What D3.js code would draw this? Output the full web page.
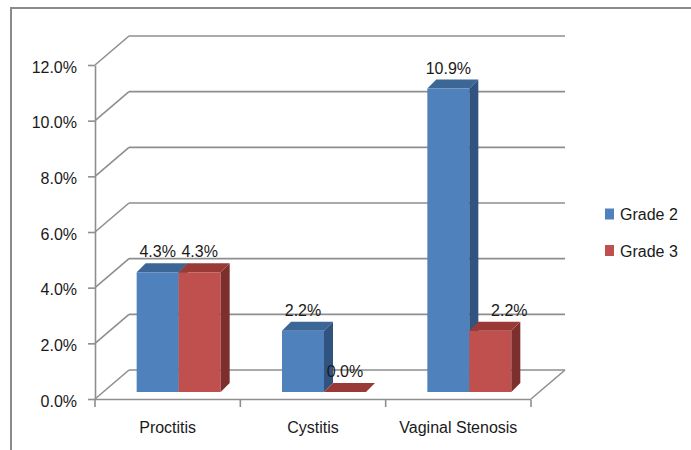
<!DOCTYPE html>
<html>
<head>
<meta charset="utf-8">
<script src="https://cdn.jsdelivr.net/npm/d3@7"></script>
<style>
  html, body { margin: 0; padding: 0; background: #fff; }
  svg { display: block; }
  text { font-family: "Liberation Sans", Arial, sans-serif; fill: #1a1a1a; }
</style>
</head>
<body>
<svg id="chart" width="691" height="450"></svg>
<script>
// Toxicity rates by category and grade
const categories = ["Proctitis", "Cystitis", "Vaginal Stenosis"];
const seriesNames = ["Grade 2", "Grade 3"];
const grade2 = [0.043, 0.022, 0.109];
const grade3 = [0.043, 0.000, 0.022];
const yTicks = [0, 0.02, 0.04, 0.06, 0.08, 0.10, 0.12];

const seriesValues = [grade2, grade3];
const colors = [
  { front: "#4F81BD", top: "#3B6696", side: "#31537F" },
  { front: "#C0504D", top: "#9A3A37", side: "#7C2F2D" }
];

const svg = d3.select("#chart");
const W = 691, H = 450;
const fontSize = 16;

// Plot frame (front plane) and 3D wall offset
const plotLeft = 95, plotRight = 531, plotBase = 399, plotTop = 65;
const wall = { dx: 34, dy: -29 };      // depth of the walls / floor
const barOff = { dx: 11, dy: -7 };     // bars sit a little way into the floor
const barDepth = { dx: 9, dy: -9 };    // thickness of each column
const gridColor = "#8E8E8E";

const x = d3.scaleBand().domain(categories).range([plotLeft, plotRight]).padding(0);
const y = d3.scaleLinear().domain([0, 0.12]).range([plotBase, plotTop]);
const groupWidth = x.bandwidth() * 0.578;
const xs = d3.scaleBand().domain(seriesNames).range([0, groupWidth]).padding(0);
const pct = d3.format(".1%");

// Outer chart border
svg.append("path")
  .attr("d", `M11,${H} L11,8 L${W},8`)
  .attr("fill", "none").attr("stroke", "#8A8A8A").attr("stroke-width", 2);

// Back wall gridlines and side wall diagonals
const grid = svg.append("g").attr("stroke", gridColor).attr("stroke-width", 1.6).attr("fill", "none");
yTicks.forEach(t => {
  grid.append("line")
    .attr("x1", plotLeft + wall.dx).attr("y1", y(t) + wall.dy)
    .attr("x2", plotRight + wall.dx).attr("y2", y(t) + wall.dy);
  grid.append("line")
    .attr("x1", plotLeft).attr("y1", y(t))
    .attr("x2", plotLeft + wall.dx).attr("y2", y(t) + wall.dy);
});
// Floor right edge
grid.append("line")
  .attr("x1", plotRight).attr("y1", plotBase)
  .attr("x2", plotRight + wall.dx).attr("y2", plotBase + wall.dy);

// Y axis
const yAxis = d3.axisLeft(y)
  .tickValues(yTicks)
  .tickFormat(pct)
  .tickSizeInner(7)
  .tickSizeOuter(0)
  .tickPadding(11);
const gy = svg.append("g").attr("transform", `translate(${plotLeft},0)`).call(yAxis);
gy.select(".domain").attr("stroke", gridColor).attr("stroke-width", 1.6);
gy.selectAll(".tick line").attr("stroke", gridColor).attr("stroke-width", 1.6);
gy.selectAll(".tick text")
  .attr("font-size", fontSize)
  .attr("font-family", "Liberation Sans, Arial, sans-serif")
  .attr("fill", "#1a1a1a")
  .attr("dy", "0.45em");

// X axis: baseline, boundary ticks, category labels
const gx = svg.append("g");
gx.append("line")
  .attr("x1", plotLeft).attr("y1", plotBase + 0.5)
  .attr("x2", plotRight).attr("y2", plotBase + 0.5)
  .attr("stroke", gridColor).attr("stroke-width", 1.6);
const boundaries = categories.map(c => x(c)).concat([plotRight]);
boundaries.forEach(bx => {
  gx.append("line")
    .attr("x1", bx).attr("y1", plotBase + 0.5)
    .attr("x2", bx).attr("y2", plotBase + 8)
    .attr("stroke", gridColor).attr("stroke-width", 1.6);
});
gx.selectAll("text.cat")
  .data(categories)
  .join("text")
  .attr("class", "cat")
  .attr("x", d => x(d) + x.bandwidth() / 2)
  .attr("y", 433)
  .attr("text-anchor", "middle")
  .attr("font-size", fontSize)
  .text(d => d);

// Columns
const bars = svg.append("g");
const labels = svg.append("g");
categories.forEach((cat, ci) => {
  const gx0 = x(cat) + (x.bandwidth() - groupWidth) / 2 + barOff.dx;
  seriesNames.forEach((s, si) => {
    const v = seriesValues[si][ci];
    const c = colors[si];
    const xl = gx0 + xs(s);
    const xr = xl + xs.bandwidth();
    const yb = y(0) + barOff.dy;
    const yt = y(v) + barOff.dy;
    const ddx = barDepth.dx, ddy = barDepth.dy;
    const g = bars.append("g");
    if (v > 0) {
      // front face
      g.append("rect")
        .attr("x", xl).attr("y", yt)
        .attr("width", xr - xl).attr("height", yb - yt)
        .attr("fill", c.front);
      // side face
      g.append("path")
        .attr("d", `M${xr},${yt} L${xr + ddx},${yt + ddy} L${xr + ddx},${yb + ddy} L${xr},${yb} Z`)
        .attr("fill", c.side);
    }
    // top face
    g.append("path")
      .attr("d", `M${xl},${yt} L${xl + ddx},${yt + ddy} L${xr + ddx},${yt + ddy} L${xr},${yt} Z`)
      .attr("fill", c.top);

    // Value label; moved right when a taller column on its left would cover it
    const prev = si > 0 ? seriesValues[si - 1][ci] : null;
    const nudge = (prev !== null && v > 0 && prev > v) ? 19 : 0;
    labels.append("text")
      .attr("x", (xl + xr) / 2 + nudge)
      .attr("y", yt - 15)
      .attr("text-anchor", "middle")
      .attr("font-size", fontSize)
      .text(pct(v));
  });
});

// Legend
const legend = svg.append("g");
seriesNames.forEach((s, i) => {
  const ly = 214 + i * 36.5;
  legend.append("rect")
    .attr("x", 605).attr("y", ly - 5.5)
    .attr("width", 9).attr("height", 11)
    .attr("fill", colors[i].front);
  legend.append("text")
    .attr("x", 620).attr("y", ly + 6)
    .attr("font-size", fontSize)
    .text(s);
});
</script>
</body>
</html>
